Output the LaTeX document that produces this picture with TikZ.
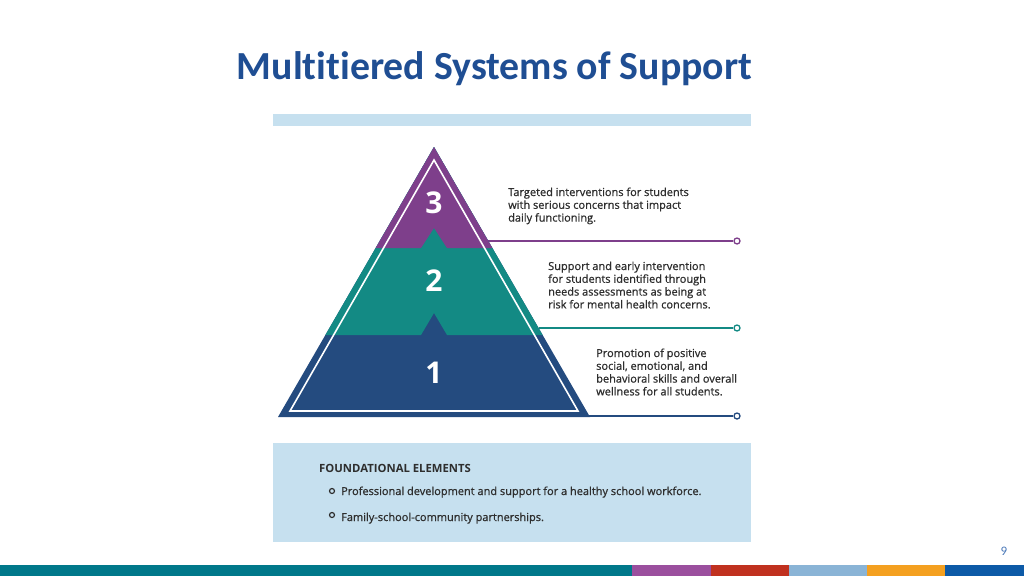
\documentclass[tikz,border=0pt]{standalone}
\usepackage{fontspec}
\setmainfont{Open Sans}
\newfontfamily\titlefont{Carlito}[Ligatures=NoCommon]
\newfontfamily\semifont{Open Sans}[FakeBold=0.9]
\usepackage{xcolor}
\usetikzlibrary{positioning,calc}

\definecolor{titleblue}{HTML}{1F4E93}
\definecolor{pageblue}{HTML}{4A78B8}
\definecolor{tierpurple}{HTML}{7E3F8B}
\definecolor{tierteal}{HTML}{138A84}
\definecolor{tierblue}{HTML}{244B7F}
\definecolor{paleblue}{HTML}{C6E0EF}
\definecolor{bodygray}{HTML}{2E2E2E}
\definecolor{barteal}{HTML}{00788A}
\definecolor{barpurple}{HTML}{9B4F9E}
\definecolor{barred}{HTML}{C0311F}
\definecolor{barsky}{HTML}{8AB4D6}
\definecolor{barorange}{HTML}{F4A020}
\definecolor{barblue}{HTML}{0D5AA7}

\tikzset{
  tiertext/.style={anchor=base west, align=left, font=\semifont\fontsize{11}{12.8}\selectfont, text=bodygray, inner sep=0pt},
  tiernum/.style={font=\fontsize{30}{30}\selectfont\bfseries, text=white},
  endring/.style={circle, draw, fill=white, line width=1.3pt, minimum size=6pt, inner sep=0pt},
  bulletring/.style={circle, draw=bodygray, line width=1.2pt, minimum size=5pt, inner sep=0pt},
  leader/.style={line width=2pt}
}

\begin{document}
\begin{tikzpicture}[x=1pt,y=-1pt]
\useasboundingbox (0,0) rectangle (1024,576);

% Title
\node[anchor=base, font=\titlefont\fontsize{39.8}{40}\selectfont\bfseries, text=titleblue] (title) at (494.5,79) {Multitiered Systems of Support};

% Top band and foundation box
\fill[paleblue] (273,114) rectangle (751,126);
\fill[paleblue] (273,443) rectangle (751,542);

% Pyramid corners
\coordinate (apex) at (434,147);
\coordinate (baseL) at (278,417);
\coordinate (baseR) at (590,417);

% Leader ends
\coordinate (edge3) at (488,241);
\coordinate (edge2) at (539,328);
\coordinate (edge1) at (589,416);
\node[endring, draw=tierpurple] (end3) at (737,241) {};
\node[endring, draw=tierteal] (end2) at (737,328) {};
\node[endring, draw=tierblue] (end1) at (737,416) {};
\draw[leader, tierpurple] (edge3) -- (end3);
\draw[leader, tierteal] (edge2) -- (end2);
\draw[leader, tierblue] (edge1) -- (end1);

% Tiers
\fill[tierblue] (apex) -- (baseL) -- (baseR) -- cycle;
\begin{scope}
  \clip (apex) -- (baseL) -- (baseR) -- cycle;
  \fill[tierteal] (200,335) -- (421,335) -- (434,313) -- (447,335) -- (700,335) -- (700,100) -- (200,100) -- cycle;
  \fill[tierpurple] (200,248) -- (421,248) -- (434,228) -- (447,248) -- (700,248) -- (700,100) -- (200,100) -- cycle;
\end{scope}
\draw[white, line width=1.6pt, line join=miter] (434,160) -- (290,411) -- (578,411) -- cycle;

% Tier numbers
\node[tiernum] (num3) at (434,203) {3};
\node[tiernum] (num2) at (434,281) {2};
\node[tiernum] (num1) at (434,373) {1};

% Tier descriptions (anchored on the last line)
\node[tiertext] (text3) at (508,221.6) {Targeted interventions for students\\with serious concerns that impact\\daily functioning.};
\node[tiertext] (text2) at (548,308.4) {Support and early intervention\\for students identified through\\needs assessments as being at\\risk for mental health concerns.};
\node[tiertext] (text1) at (596,395.4) {Promotion of positive\\social, emotional, and\\behavioral skills and overall\\wellness for all students.};

% Foundational elements
\node[anchor=base west, inner sep=0pt, font=\fontsize{11.3}{12}\selectfont\bfseries, text=bodygray] (found) at (319,472) {FOUNDATIONAL ELEMENTS};
\node[bulletring] (dot1) at (332,491) {};
\node[bulletring] (dot2) at (332,515) {};
\node[tiertext] (item1) at (341,495) {Professional development and support for a healthy school workforce.};
\node[tiertext] (item2) at (341,521) {Family-school-community partnerships.};

% Page number
\node[font=\titlefont\fontsize{13}{13}\selectfont, text=pageblue] (page) at (1004,551) {9};

% Bottom colour bar
\fill[barteal] (0,565) rectangle (632,576);
\fill[barpurple] (632,565) rectangle (711,576);
\fill[barred] (711,565) rectangle (789,576);
\fill[barsky] (789,565) rectangle (867,576);
\fill[barorange] (867,565) rectangle (945,576);
\fill[barblue] (945,565) rectangle (1024,576);

\end{tikzpicture}
\end{document}
